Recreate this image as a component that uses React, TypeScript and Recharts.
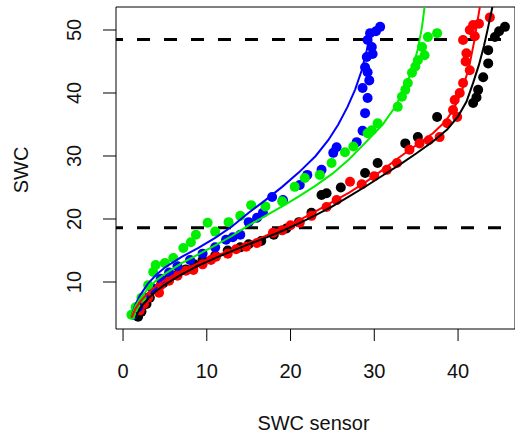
import { Label, ReferenceLine, Scatter, ScatterChart, XAxis, YAxis } from "recharts";

type Pt = { x: number; y: number };

const toPts = (rows: number[][]): Pt[] => rows.map(([x, y]) => ({ x, y }));

const xTicks = [0, 10, 20, 30, 40];
const yTicks = [10, 20, 30, 40, 50];
const xDomain: [number, number] = [-0.84, 46.8];
const yDomain: [number, number] = [2.54, 53.65];
const thresholds = [18.6, 48.5];

const bluePoints = toPts([
  [1.2, 4.8], [1.8, 6], [2.5, 7.5], [3.5, 9], [4.5, 10.5], [5.5, 11.5], [6.5, 12.5], [8, 13.5],
  [9.5, 14.5], [11, 15.5], [12.3, 16.7], [13.1, 17.1], [14, 17.5], [15, 19.5], [16, 20.2], [16.7, 21],
  [17.8, 23.5], [19.1, 23], [21.1, 25.4], [22, 27], [23.7, 27.8], [25.1, 30.5], [25.5, 31.4], [27.9, 32.2],
  [28.6, 34], [28.9, 36.8], [29.2, 39.2], [28.6, 40.8], [29.2, 43.3], [28.9, 44.1], [29.1, 45.7], [29.7, 47.3],
  [29.2, 48.4], [29.5, 49.5], [30.7, 50.5], [30.2, 49.8], [29.4, 42], [29.8, 46.2],
]);

const greenPoints = toPts([
  [1, 4.8], [1.5, 6], [2.2, 7.5], [3, 9.5], [3.6, 11.6], [3.9, 12.7], [5, 13], [6, 13.8],
  [7.2, 15.4], [8.1, 16.3], [8.7, 17.5], [10.1, 19.4], [11, 18], [12.6, 19.5], [14, 20.5], [15.3, 22.2],
  [17, 22], [19, 22.8], [20.5, 25.1], [21.7, 26.5], [23.5, 27], [24.9, 28.9], [26.5, 30.6], [27.5, 31.5],
  [29.2, 33.6], [29.7, 34.1], [30.4, 35.2], [32.8, 37.8], [33.3, 39.4], [34, 41.6], [34.5, 43.2], [35.2, 45.2],
  [36, 46], [35.7, 47.3], [36.4, 48.9], [37.5, 49.5], [33.7, 40.5], [34.9, 44.2],
]);

const redPoints = toPts([
  [2, 5.5], [2.5, 6.5], [3, 7.5], [4.3, 8.3], [4.5, 9.5], [5.5, 10.2], [6.5, 11], [7.5, 11.8],
  [8.4, 11.9], [9.5, 12.8], [10.5, 13.5], [11.1, 14], [12.5, 14.5], [13.5, 15.2], [14.7, 15.6], [16, 16.2],
  [17.9, 17.8], [19, 18.2], [20, 19], [21.1, 19.4], [22.5, 20.5], [24.3, 21.9], [25.5, 23], [27.1, 25.9],
  [28.5, 25.5], [30, 26.8], [31.5, 27.8], [32.7, 28.9], [34.2, 31], [35.4, 32], [36.5, 32.5], [37.8, 33],
  [38.7, 35.2], [39.4, 37.3], [39.6, 38.9], [40.6, 41.6], [41.4, 43.6], [41, 46.3], [40.6, 48.4], [41.4, 50],
  [42, 49], [42.5, 51], [43.8, 52], [40.2, 40], [40.9, 45], [41.8, 50.8], [39.9, 36.2],
]);

const blackPoints = toPts([
  [1.8, 4.5], [2.2, 5.3], [2.8, 6.5], [3.2, 7.5], [4, 8.8], [4.8, 9.8], [5.5, 10.5], [6.5, 11.2],
  [7.5, 12], [8.5, 12.8], [9.5, 13.5], [11, 14.2], [12.5, 15], [14, 15.5], [15, 16], [16.5, 16.5],
  [18, 17.5], [19.5, 18.5], [21, 19.5], [22.5, 21], [23.7, 23.8], [24.3, 24.1], [26, 25], [28.9, 27.3],
  [30.4, 28.9], [33.7, 32], [35.2, 33], [37.5, 36.2], [41.8, 38.4], [42.4, 40.5], [43, 42.5], [43.6, 44.7],
  [43.6, 46.8], [44.4, 48.9], [45.6, 50.5], [42.2, 39.3], [44.9, 49.8],
]);

// fitted curves
const blueCurve = toPts([
  [1, 4.5], [1.5, 6.5], [2, 7.8], [3, 9.8], [4, 11.2], [5, 12.3], [7, 14], [9, 15.4], [11, 17],
  [13, 18.8], [15, 21], [17, 23], [19, 25.1], [21, 27.4], [23, 30], [24.5, 32.5], [25.7, 35],
  [26.8, 37.8], [27.7, 40.5], [28.5, 43.6], [29.1, 46.8], [29.6, 49.8],
]);

const greenCurve = toPts([
  [1, 4.5], [1.5, 6.2], [2, 7.3], [3, 9], [4, 10.3], [5, 11.3], [7, 13], [9, 14.4], [11, 15.8],
  [13, 17.3], [15, 19], [17, 20.5], [19, 22], [21, 23.6], [23, 25.3], [25, 27.2], [27, 29.5], [29, 32.2],
  [31, 35], [32.5, 37.8], [33.5, 40.5], [34.5, 43.5], [35.2, 47], [35.7, 50.5], [36, 53.65],
]);

const redCurve = toPts([
  [1, 4.3], [1.5, 5.8], [2, 6.8], [3, 8.3], [4, 9.4], [5, 10.3], [7, 11.8], [9, 13], [11, 14.1],
  [13, 15.1], [15, 16.2], [17, 17.3], [19, 18.5], [21, 19.8], [23, 21.2], [25, 22.7], [27, 24.2], [29, 25.9],
  [31, 27.8], [33, 29.8], [35, 31.7], [37, 33.6], [38.5, 35.5], [39.5, 37.5], [40.5, 40.5], [41.3, 44],
  [41.9, 48], [42.6, 53.65],
]);

const blackCurve = toPts([
  [1.5, 4.3], [2, 5.8], [3, 7.4], [4, 8.6], [5, 9.6], [7, 11.2], [9, 12.6], [11, 13.8], [13, 14.9],
  [15, 16], [17, 17], [19, 18.1], [21, 19.3], [23, 20.6], [25, 22], [27, 23.6], [29, 25.2], [31, 26.9],
  [33, 28.6], [35, 30.4], [37, 32.3], [38.7, 34.2], [40, 36.3], [41, 38.6], [41.8, 41.6], [42.5, 44.5],
  [43.1, 47.5], [43.6, 50.5], [44.1, 53.65],
]);

const pointSeries = [
  { name: "black", color: "#000000", data: blackPoints },
  { name: "red", color: "#ff0000", data: redPoints },
  { name: "blue", color: "#0000ff", data: bluePoints },
  { name: "green", color: "#00ee00", data: greenPoints },
];

const curveSeries = [
  { name: "blue-fit", color: "#0000ff", data: blueCurve },
  { name: "green-fit", color: "#00ee00", data: greenCurve },
  { name: "red-fit", color: "#ff0000", data: redCurve },
  { name: "black-fit", color: "#000000", data: blackCurve },
];

const font = "'Liberation Sans', Arial, sans-serif";

const dot = (color: string) => (props: any) => (
  <circle cx={props.cx} cy={props.cy} r={5} fill={color} />
);

const XTick = (props: any) => (
  <text x={props.x} y={props.y} textAnchor="middle" dominantBaseline="central" fontSize={20} fontFamily={font} fill="#111">
    {props.payload.value}
  </text>
);

const YTick = (props: any) => (
  <text
    x={props.x}
    y={props.y}
    transform={`rotate(-90 ${props.x} ${props.y})`}
    textAnchor="middle"
    dominantBaseline="central"
    fontSize={20}
    fontFamily={font}
    fill="#111"
  >
    {props.payload.value}
  </text>
);

const XTitle = (props: any) => {
  const { x, y, width } = props.viewBox;
  return (
    <text x={x + width / 2 - 2} y={y + 94} textAnchor="middle" dominantBaseline="central" fontSize={20} fontFamily={font} fill="#111">
      SWC sensor
    </text>
  );
};

const YTitle = (props: any) => {
  const { x, y, height } = props.viewBox;
  const cx = x + 21;
  const cy = y + height / 2 + 2;
  return (
    <text x={cx} y={cy} transform={`rotate(-90 ${cx} ${cy})`} textAnchor="middle" dominantBaseline="central" fontSize={20} fontFamily={font} fill="#111">
      SWC
    </text>
  );
};

export default function App() {
  return (
    <div style={{ position: "fixed", left: 0, top: 0, width: 515, height: 439, overflow: "hidden", background: "#fff" }}>
      <ScatterChart width={530} height={439} margin={{ top: 7, right: 15, bottom: 0, left: 0 }}>
        <XAxis
          type="number"
          dataKey="x"
          domain={xDomain}
          ticks={xTicks}
          allowDataOverflow
          height={110}
          tickSize={12}
          tickMargin={30}
          tick={<XTick />}
          stroke="#000"
          tickLine={{ stroke: "#000" }}
        >
          <Label content={<XTitle />} />
        </XAxis>
        <YAxis
          type="number"
          dataKey="y"
          domain={yDomain}
          ticks={yTicks}
          allowDataOverflow
          width={116}
          tickSize={13}
          tickMargin={29}
          tick={<YTick />}
          stroke="#000"
          tickLine={{ stroke: "#000" }}
        >
          <Label content={<YTitle />} />
        </YAxis>
        {pointSeries.map((s) => (
          <Scatter key={s.name} data={s.data} fill={s.color} shape={dot(s.color)} isAnimationActive={false} />
        ))}
        {curveSeries.map((s) => (
          <Scatter
            key={s.name}
            data={s.data}
            fill={s.color}
            line={{ stroke: s.color, strokeWidth: 2 }}
            lineType="joint"
            shape={() => null}
            isAnimationActive={false}
          />
        ))}
        {thresholds.map((t) => (
          <ReferenceLine key={t} y={t} stroke="#000" strokeWidth={3} strokeDasharray="13 14" strokeDashoffset={6} />
        ))}
        <ReferenceLine y={yDomain[1]} stroke="#000" />
        <ReferenceLine x={xDomain[1]} stroke="#000" />
      </ScatterChart>
    </div>
  );
}
